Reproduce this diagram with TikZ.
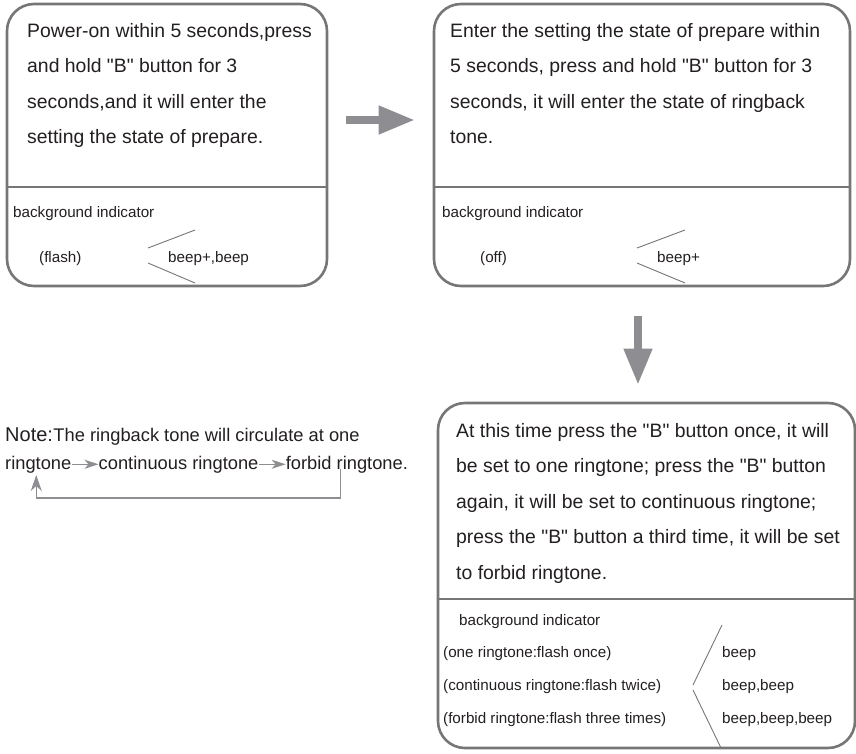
\documentclass[tikz,border=0pt]{standalone}
\usepackage{fontspec}
\setmainfont{Liberation Sans}[Ligatures=TeXOff]
\usetikzlibrary{arrows.meta,positioning,calc}
\definecolor{frame}{RGB}{118,118,120}
\definecolor{pointer}{RGB}{142,142,146}
\definecolor{ink}{RGB}{35,31,32}
\tikzset{
  panel/.style={draw=frame,line width=2.6pt,rounded corners=27pt,inner sep=0pt},
  rule/.style={draw=frame,line width=1.8pt},
  fork/.style={draw=frame,line width=0.9pt},
  body/.style={text=ink,inner sep=0pt,align=left,anchor=base west,
    font={\fontsize{19.4}{35.5}\selectfont}},
  small/.style={text=ink,inner sep=0pt,anchor=base west,
    font={\fontsize{15.2}{18}\selectfont}},
  note/.style={text=ink,inner sep=0pt,anchor=base west,
    font={\fontsize{18.3}{22}\selectfont}},
  bigarrow/.style={draw=pointer,line width=7.5pt,-{Triangle[length=36pt,width=27pt]}},
  flow/.style={draw=pointer,line width=1.3pt,-{Stealth[length=14pt,width=9pt,inset=4pt]}},
  back/.style={draw=pointer,line width=1.3pt,-{Stealth[length=16pt,width=11pt,inset=5pt]}},
}
\begin{document}
\begin{tikzpicture}[x=1pt,y=-1pt]
  \useasboundingbox (0,0) rectangle (856,753);
  % the three panels
  \node[panel,minimum width=320pt,minimum height=282pt] (b1) at (167,145) {};
  \node[panel,minimum width=416pt,minimum height=282pt] (b2) at (642,145) {};
  \node[panel,minimum width=417pt,minimum height=345pt] (b3) at (646.5,575.5) {};
  \draw[rule] (b1.west |- 0,187) -- (b1.east |- 0,187);
  \draw[rule] (b2.west |- 0,187) -- (b2.east |- 0,187);
  \draw[rule] (b3.west |- 0,599) -- (b3.east |- 0,599);

  % base anchor of a multi-line node sits on its last line
  \node[body] (t1) at (27,143.5) {Power-on within 5 seconds,press\\and hold "B" button for 3\\seconds,and it will enter the\\setting the state of prepare.};
  \node[small] (bg1) at (13,217) {background indicator};
  \node[small] (led1) at (39,262) {(flash)};
  \node[small] (snd1) at (168,262) {beep+,beep};
  \draw[fork] (195,230) -- (148,248) (148,263) -- (195,283);

  \node[body] (t2) at (450,143.5) {Enter the setting the state of prepare within\\5 seconds, press and hold "B" button for 3\\seconds, it will enter the state of ringback\\tone.};
  \node[small] (bg2) at (442,217) {background indicator};
  \node[small] (led2) at (480,262) {(off)};
  \node[small] (snd2) at (657,262) {beep+};
  \draw[fork] (685,230) -- (637,248) (637,263) -- (685,283);

  \node[body] (t3) at (456,579) {At this time press the "B" button once, it will\\be set to one ringtone; press the "B" button\\again, it will be set to continuous ringtone;\\press the "B" button a third time, it will be set\\to forbid ringtone.};
  \node[small] (bg3) at (459,625) {background indicator};
  \foreach \i/\y/\led/\snd in {1/657/one ringtone:flash once/beep,
      2/690/continuous ringtone:flash twice/{beep,beep},
      3/723/forbid ringtone:flash three times/{beep,beep,beep}} {
    \node[small] (led3\i) at (443,\y) {(\led)};
    \node[small] (snd3\i) at (722,\y) {\snd};
  }
  \draw[fork] (722,625) -- (693,685) (693,690) -- (721,748);

  \draw[bigarrow,shorten <=18pt,shorten >=18pt] ([yshift=25pt]b1.east) -- ([yshift=25pt]b2.west);
  \draw[bigarrow,shorten <=29pt,shorten >=17pt] ([xshift=-4pt]b2.south) -- ([xshift=-4pt]b2.south |- b3.north);

  % note with the ringtone cycle
  \node[note,font={\fontsize{20}{24}\selectfont}] (note) at (5,441) {Note:};
  \node[note] (notetxt) at (note.base east) {The ringback tone will circulate at one};
  \node[note] (r1) at (5,469) {ringtone};
  \node[note] (r2) at ([xshift=27pt]r1.base east) {continuous ringtone};
  \node[note] (r3) at ([xshift=27pt]r2.base east) {forbid ringtone.};
  \draw[flow] (r1.east) -- (r2.west);
  \draw[flow] (r2.east) -- (r3.west);
  \coordinate (lp) at ([xshift=55pt]r3.base west);
  \draw[back] (lp) -- ++(0,29) -| ([xshift=-2pt,yshift=-2pt]r1.south);
\end{tikzpicture}
\end{document}
